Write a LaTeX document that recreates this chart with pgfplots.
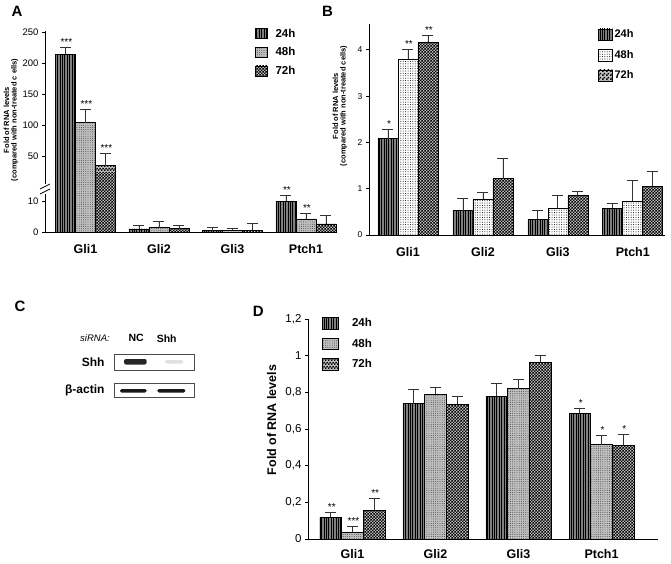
\documentclass[border=0pt]{standalone}
\usepackage{pgfplots}
\pgfplotsset{compat=1.18}
\usepackage{pgfplotstable}
\usepackage{fontspec}
\setmainfont{Liberation Sans}
\usetikzlibrary{patterns,patterns.meta}

\newcommand{\fsz}[1]{\fontsize{#1}{#1}\selectfont}

% gene position, mean and upper error for 24h / 48h / 72h
\pgfplotstableread{
x v24 e24 v48 e48 v72 e72
0 215 11 105 21 35.5 20
1 1.0 1.2 1.4 1.9 1.1 1.1
2 0.4 1.1 0.6 0.5 0.5 2.3
3 9.9 1.9 4.2 1.7 2.6 2.8
}\dataA
\pgfplotstableread{
x v24 e24 v48 e48 v72 e72
0 2.08 0.19 3.79 0.22 4.16 0.14
1 0.525 0.255 0.77 0.15 1.22 0.43
2 0.345 0.18 0.58 0.27 0.86 0.08
3 0.58 0.10 0.73 0.45 1.05 0.33
}\dataB
\pgfplotstableread{
x v24 e24 v48 e48 v72 e72
0 0.118 0.027 0.036 0.031 0.158 0.063
1 0.738 0.076 0.789 0.036 0.736 0.042
2 0.780 0.070 0.820 0.049 0.965 0.034
3 0.687 0.024 0.515 0.049 0.511 0.060
}\dataD

% fine checkerboard
\pgfdeclarepattern{name=finecheck, type=uncolored,
  bottom left={\pgfpoint{0pt}{0pt}}, top right={\pgfpoint{3.4pt}{3.4pt}},
  tile size={\pgfpoint{3.4pt}{3.4pt}},
  code={\pgfpathrectangle{\pgfpoint{0pt}{0pt}}{\pgfpoint{1.7pt}{1.7pt}}
        \pgfpathrectangle{\pgfpoint{1.7pt}{1.7pt}}{\pgfpoint{1.7pt}{1.7pt}}
        \pgfusepath{fill}}}

\tikzset{
  bar24/.style={draw=black, line width=0.6pt, fill=black!50,
    postaction={pattern={Lines[angle=90,distance=2.4pt,line width=0.9pt]}, pattern color=black}},
  bar48/.style={draw=black, line width=0.6pt, fill=black!25,
    postaction={pattern={Dots[radius=0.45pt,distance=2.2pt]}, pattern color=black!80}},
  bar48w/.style={draw=black, line width=0.6pt, fill=white,
    postaction={pattern={Dots[radius=0.5pt,distance=2.4pt]}, pattern color=black}},
  bar72/.style={draw=black, line width=0.6pt, fill=black!25,
    postaction={pattern=finecheck, pattern color=black}},
}
\pgfplotsset{
  errs/.style={error bars/y dir=plus, error bars/y explicit,
    error bars/error bar style={line width=0.8pt, black!80},
    error bars/error mark options={rotate=90, mark size=5.5pt, line width=0.8pt, black!80}},
  stars/.style={sharp plot, draw=none, mark=none, forget plot,
    nodes near coords, point meta=explicit symbolic,
    nodes near coords style={anchor=base, yshift=2pt, inner sep=0pt, font=\fsz{10}, xshift=#1}},
  panel/.style={
    scale only axis, ybar,
    axis x line*=bottom, axis y line*=left,
    axis line style={line width=0.8pt, black},
    tick align=outside, major tick length=3pt,
    xtick={0,1,2,3}, xticklabels={Gli1,Gli2,Gli3,Ptch1},
    x tick style={draw=none},
    y tick style={line width=0.7pt, black},
    xticklabel style={font=\bfseries\fsz{12.5}, yshift=-6pt},
    /pgf/number format/assume math mode=true,
    legend cell align=left,
  },
}

\begin{document}
\begin{tikzpicture}
\useasboundingbox (0pt,0pt) rectangle (671pt,563pt);

% ---------------- A (upper part, 14..252): only Gli1 reaches it
\begin{axis}[panel, at={(45pt,383.9pt)}, anchor=south west,
  width=291.8pt, height=148pt, xmin=-0.55, xmax=3.42, ymin=14, ymax=252,
  axis x line=none, xtick=\empty,
  ytick={50,100,150,200,250}, yticklabel style={font=\fsz{9.5}}, bar width=20pt,
  legend image code/.code={\draw[#1] (0pt,-5pt) rectangle (11.7pt,5pt);},
  legend style={draw=none, fill=none, at={(0.72,1.02)}, anchor=north west,
    inner sep=0pt, row sep=8pt, column sep=8pt,
    font=\bfseries\fsz{11.5}, nodes={inner sep=0pt}}]
\addplot[bar24, bar shift=-20pt, errs, skip coords between index={1}{4}] table[x=x, y=v24, y error=e24] {\dataA};
\addplot[bar48, bar shift=0pt, errs, skip coords between index={1}{4}] table[x=x, y=v48, y error=e48] {\dataA};
\addplot[bar72, bar shift=20pt, errs, skip coords between index={1}{4}] table[x=x, y=v72, y error=e72] {\dataA};
\addplot[stars=-30pt] coordinates {(0,226) [***]};
\addplot[stars=-10pt] coordinates {(0,126) [***]};
\addplot[stars=10pt] coordinates {(0,55.5) [***]};
\legend{24h,48h,72h}
\end{axis}
% ---------------- A (lower part, 0..19), drawn over the join
\begin{axis}[panel, at={(45pt,331pt)}, anchor=south west,
  width=291.8pt, height=58.9pt, xmin=-0.55, xmax=3.42, ymin=0, ymax=19,
  ytick={0,10}, yticklabel style={font=\fsz{9.5}}, bar width=20pt]
\addplot[bar24, bar shift=-20pt, errs] table[x=x, y=v24, y error=e24] {\dataA};
\addplot[bar48, bar shift=0pt, errs] table[x=x, y=v48, y error=e48] {\dataA};
\addplot[bar72, bar shift=20pt, errs] table[x=x, y=v72, y error=e72] {\dataA};
\addplot[stars=-30pt] coordinates {(3,11.8) [**]};
\addplot[stars=-10pt] coordinates {(3,5.9) [**]};
\end{axis}
% axis break on the left spine
\fill[white] (41pt,563pt-194pt) rectangle (49pt,563pt-184pt);
\draw[line width=0.7pt] (40pt,563pt-194pt) -- (50pt,563pt-189pt);
\draw[line width=0.7pt] (40pt,563pt-189pt) -- (50pt,563pt-184pt);
\node[rotate=90, align=center, font=\bfseries\fsz{7.5}] at (11pt,563pt-120pt)
  {Fold of RNA levels\\(compared with non-treated c ells)};
\node[font=\bfseries\fsz{15}] at (17pt,563pt-11pt) {A};

% ---------------- B
\begin{axis}[panel, at={(369pt,328pt)}, anchor=south west,
  width=296pt, height=210.7pt, xmin=-0.52, xmax=3.43, ymin=0, ymax=4.55,
  ytick={0,1,2,3,4}, yticklabel style={font=\fsz{8.5}}, bar width=20pt,
  legend image code/.code={\draw[#1] (0pt,-5.8pt) rectangle (13.7pt,5.8pt);},
  legend style={draw=none, fill=none, at={(0.774,0.981)}, anchor=north west,
    inner sep=0pt, row sep=8.3pt, column sep=2pt,
    font=\bfseries\fsz{11}, nodes={inner sep=0pt}}]
\addplot[bar24, bar shift=-20pt, errs] table[x=x, y=v24, y error=e24] {\dataB};
\addplot[bar48w, bar shift=0pt, errs] table[x=x, y=v48, y error=e48] {\dataB};
\addplot[bar72, bar shift=20pt, errs] table[x=x, y=v72, y error=e72] {\dataB};
\addplot[stars=-30pt] coordinates {(0,2.27) [*]};
\addplot[stars=-10pt] coordinates {(0,4.01) [**]};
\addplot[stars=10pt] coordinates {(0,4.30) [**]};
\legend{24h,48h,72h}
\end{axis}
\node[rotate=90, align=center, font=\bfseries\fsz{7.5}] at (340pt,563pt-106pt)
  {Fold of RNA levels\\(compared with non-treated cells)};
\node[font=\bfseries\fsz{15}] at (327.5pt,563pt-11pt) {B};

% ---------------- C (western blot)
\node[font=\bfseries\fsz{15}] at (20pt,563pt-306pt) {C};
\node[font=\itshape\fsz{9.5}] at (95pt,563pt-338.3pt) {siRNA:};
\node[font=\bfseries\fsz{10.5}] at (136.2pt,563pt-338.3pt) {NC};
\node[font=\bfseries\fsz{10.5}] at (166.7pt,563pt-338.3pt) {Shh};
\node[font=\bfseries\fsz{12}, anchor=east] at (108pt,563pt-362pt) {Shh};
\node[font=\bfseries\fsz{12}, anchor=east] at (108pt,563pt-390.7pt) {β-actin};
\draw[black!70, line width=0.7pt] (114.3pt,563pt-370.7pt) rectangle (194pt,563pt-354pt);
\draw[black!70, line width=0.7pt] (114.3pt,563pt-397.3pt) rectangle (194pt,563pt-383.3pt);
\fill[black!85, rounded corners=2pt] (124pt,563pt-364.5pt) rectangle (146.7pt,563pt-359pt);
\fill[black!12, rounded corners=1.5pt] (165pt,563pt-363.5pt) rectangle (183.3pt,563pt-360pt);
\fill[black!90, rounded corners=1.5pt] (120pt,563pt-392.5pt) rectangle (146.7pt,563pt-389pt);
\fill[black!90, rounded corners=1.5pt] (157.3pt,563pt-392.5pt) rectangle (185.3pt,563pt-389pt);

% ---------------- D
\begin{axis}[panel, at={(308pt,24pt)}, anchor=south west,
  width=350pt, height=220pt, xmin=-0.536, xmax=3.68, ymin=0, ymax=1.2,
  ytick={0,0.2,0.4,0.6,0.8,1,1.2}, yticklabels={0,{0,2},{0,4},{0,6},{0,8},1,{1,2}},
  yticklabel style={font=\fsz{11.5}}, xticklabel style={yshift=2pt}, bar width=21.7pt,
  legend image code/.code={\draw[#1] (0pt,-5.8pt) rectangle (16.6pt,5.8pt);},
  legend style={draw=none, fill=none, at={(0.039,1.01)}, anchor=north west,
    inner sep=0pt, row sep=8.3pt, column sep=13pt,
    font=\bfseries\fsz{11.5}, nodes={inner sep=0pt}}]
\addplot[bar24, bar shift=-21.7pt, errs] table[x=x, y=v24, y error=e24] {\dataD};
\addplot[bar48, bar shift=0pt, errs] table[x=x, y=v48, y error=e48] {\dataD};
\addplot[bar72, bar shift=21.7pt, errs] table[x=x, y=v72, y error=e72] {\dataD};
\addplot[stars=-32.55pt] coordinates {(0,0.145) [**] (3,0.711) [*]};
\addplot[stars=-10.85pt] coordinates {(0,0.067) [***] (3,0.564) [*]};
\addplot[stars=10.85pt] coordinates {(0,0.221) [**] (3,0.571) [*]};
\legend{24h,48h,72h}
\end{axis}
\node[rotate=90, font=\bfseries\fsz{12.5}] at (271.7pt,563pt-420pt) {Fold of RNA levels};
\node[font=\bfseries\fsz{15}] at (258.3pt,563pt-311.7pt) {D};
\end{tikzpicture}
\end{document}
